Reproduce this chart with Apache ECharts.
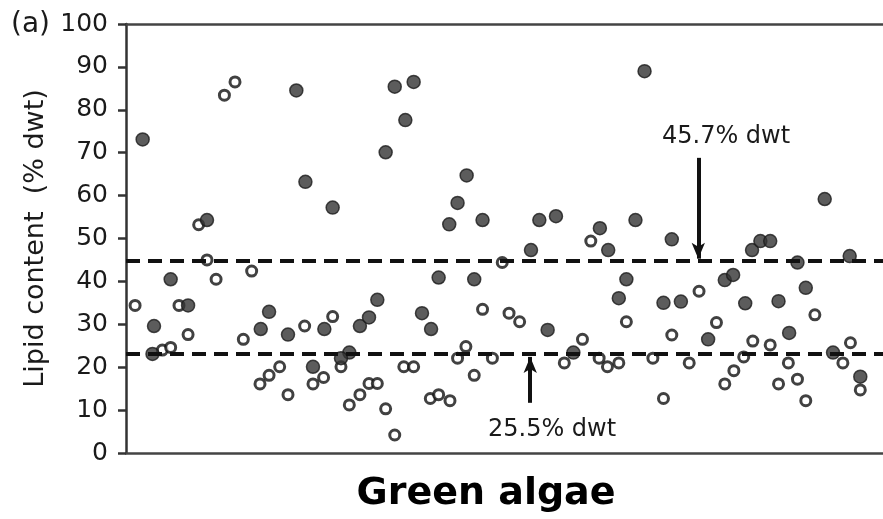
<!DOCTYPE html>
<html>
<head>
<meta charset="utf-8">
<script src="https://cdn.jsdelivr.net/npm/echarts@6/dist/echarts.min.js"></script>
<style>
  html, body { margin: 0; padding: 0; background: #fff; }
  #chart { width: 883px; height: 519px; }
</style>
</head>
<body>
<div id="chart"></div>
<script>
// sample position (0-100 along the axis) and lipid content (% dwt)
const filledPoints = [
  [2.2, 73.1], [22.5, 84.5], [23.7, 63.2], [10.7, 54.3], [5.9, 40.5], [8.2, 34.4],
  [18.9, 32.9], [3.7, 29.6], [17.8, 28.9], [21.4, 27.6], [3.5, 23.1], [24.7, 20.1],
  [27.3, 57.2], [35.5, 85.4], [38.0, 86.5], [36.9, 77.6], [34.3, 70.1], [45.0, 64.7],
  [43.8, 58.3], [42.7, 53.3], [47.1, 54.3], [41.3, 40.9], [46.0, 40.5], [33.2, 35.7],
  [32.1, 31.6], [30.9, 29.6], [26.2, 28.9], [39.1, 32.6], [40.3, 28.9], [29.5, 23.4],
  [28.4, 22.1], [68.5, 89.0], [54.6, 54.3], [56.8, 55.2], [53.5, 47.3], [62.6, 52.4],
  [63.7, 47.3], [67.3, 54.3], [72.1, 49.8], [66.1, 40.5], [65.1, 36.1], [55.7, 28.7],
  [59.1, 23.4], [71.0, 35.0], [73.3, 35.3], [92.3, 59.2], [82.7, 47.3], [83.8, 49.4],
  [85.1, 49.4], [88.7, 44.4], [95.6, 45.9], [79.1, 40.3], [80.2, 41.5], [81.8, 34.9],
  [86.2, 35.4], [89.8, 38.5], [76.9, 26.5], [87.6, 28.0], [93.4, 23.4], [97.0, 17.8]
];

const openPoints = [
  [13.0, 83.4], [14.4, 86.5], [9.6, 53.2], [10.7, 45.0], [11.9, 40.5], [16.6, 42.4],
  [1.2, 34.4], [7.0, 34.4], [8.2, 27.6], [23.6, 29.6], [15.5, 26.5], [4.8, 24.0],
  [5.9, 24.6], [20.3, 20.1], [18.9, 18.1], [17.7, 16.1], [21.4, 13.6], [24.7, 16.1],
  [49.7, 44.4], [47.1, 33.5], [50.6, 32.6], [27.3, 31.8], [28.4, 20.1], [44.9, 24.8],
  [43.8, 22.1], [48.4, 22.1], [46.0, 18.1], [26.1, 17.6], [36.7, 20.1], [38.0, 20.1],
  [29.5, 11.2], [30.9, 13.6], [32.1, 16.2], [33.2, 16.2], [34.3, 10.3], [35.5, 4.2],
  [40.2, 12.7], [41.3, 13.6], [42.8, 12.2], [61.4, 49.4], [66.1, 30.6], [52.0, 30.6],
  [60.3, 26.5], [57.9, 21.0], [62.5, 22.1], [63.6, 20.1], [65.1, 21.0], [69.6, 22.1],
  [72.1, 27.5], [71.0, 12.7], [74.4, 21.0], [75.7, 37.7], [91.0, 32.2], [78.0, 30.4],
  [82.8, 26.1], [85.1, 25.2], [95.7, 25.7], [81.6, 22.4], [80.3, 19.2], [79.1, 16.1],
  [87.5, 21.0], [86.2, 16.1], [88.7, 17.2], [89.8, 12.2], [94.7, 21.0], [97.0, 14.7]
];

// dashed reference levels (as drawn) and their callouts
const refLevels = [44.7, 23.1];
const refLabels = ['45.7% dwt', '25.5% dwt'];
// arrows: [x, from y, to y]
const arrows = [[75.6, 68.8, 45.3], [53.4, 11.7, 22.4]];

const yTicks = { min: 0, max: 100, interval: 10 };
const xTitle = 'Green algae';
const yTitle = 'Lipid content  (% dwt)';
const panelTag = '(a)';

const FONT = 'DejaVu Sans';
const chart = echarts.init(document.getElementById('chart'));

const hiddenX = (pos) => ({
  type: 'value',
  position: pos,
  min: 0,
  max: 100,
  axisLine: { show: true, onZero: false, lineStyle: { color: '#444', width: 2.5 } },
  axisTick: { show: false },
  axisLabel: { show: false },
  splitLine: { show: false }
});

chart.setOption({
  backgroundColor: '#fff',
  animation: false,
  grid: { left: 126, right: 0, top: 24, bottom: 66 },
  xAxis: [hiddenX('bottom'), hiddenX('top')],
  yAxis: {
    type: 'value',
    min: yTicks.min,
    max: yTicks.max,
    interval: yTicks.interval,
    name: yTitle,
    nameLocation: 'middle',
    nameGap: 76,
    nameTextStyle: { fontFamily: FONT, fontSize: 27, color: '#1a1a1a' },
    axisLine: { show: true, lineStyle: { color: '#333', width: 2.5 } },
    axisTick: { show: true, length: 8, lineStyle: { color: '#333', width: 2.5 } },
    axisLabel: { fontFamily: FONT, fontSize: 25, color: '#1a1a1a', margin: 18 },
    splitLine: { show: false }
  },
  series: [
    {
      type: 'scatter',
      data: openPoints,
      symbol: 'circle',
      symbolSize: 10,
      itemStyle: { color: '#fff', borderColor: '#111', borderWidth: 3 },
      markLine: {
        silent: true,
        symbol: 'none',
        label: { show: false },
        lineStyle: { color: '#111', width: 4, type: [14, 8] },
        data: refLevels.map((v) => ({ yAxis: v }))
      },
      z: 3
    },
    {
      type: 'scatter',
      data: filledPoints,
      symbol: 'circle',
      symbolSize: 13,
      itemStyle: { color: '#333', borderColor: '#1c1c1c', borderWidth: 1.5 },
      markLine: {
        silent: true,
        symbol: ['none', 'arrow'],
        symbolSize: [10, 16],
        label: { show: false },
        lineStyle: { color: '#111', width: 4, type: 'solid' },
        data: arrows.map((a) => [{ coord: [a[0], a[1]] }, { coord: [a[0], a[2]] }])
      },
      z: 4
    }
  ],
  graphic: [
    {
      type: 'text', left: 11, top: 11,
      style: { text: panelTag, font: '28px "' + FONT + '"', fill: '#1a1a1a' }
    },
    {
      type: 'text', x: 662, y: 137,
      style: { text: refLabels[0], font: '24px "' + FONT + '"', fill: '#1a1a1a', verticalAlign: 'middle' }
    },
    {
      type: 'text', x: 488, y: 430,
      style: { text: refLabels[1], font: '24px "' + FONT + '"', fill: '#1a1a1a', verticalAlign: 'middle' }
    },
    {
      type: 'text', x: 486, y: 494,
      style: { text: xTitle, font: 'bold 38px "' + FONT + '"', fill: '#000', align: 'center', verticalAlign: 'middle' }
    }
  ]
});
</script>
</body>
</html>
